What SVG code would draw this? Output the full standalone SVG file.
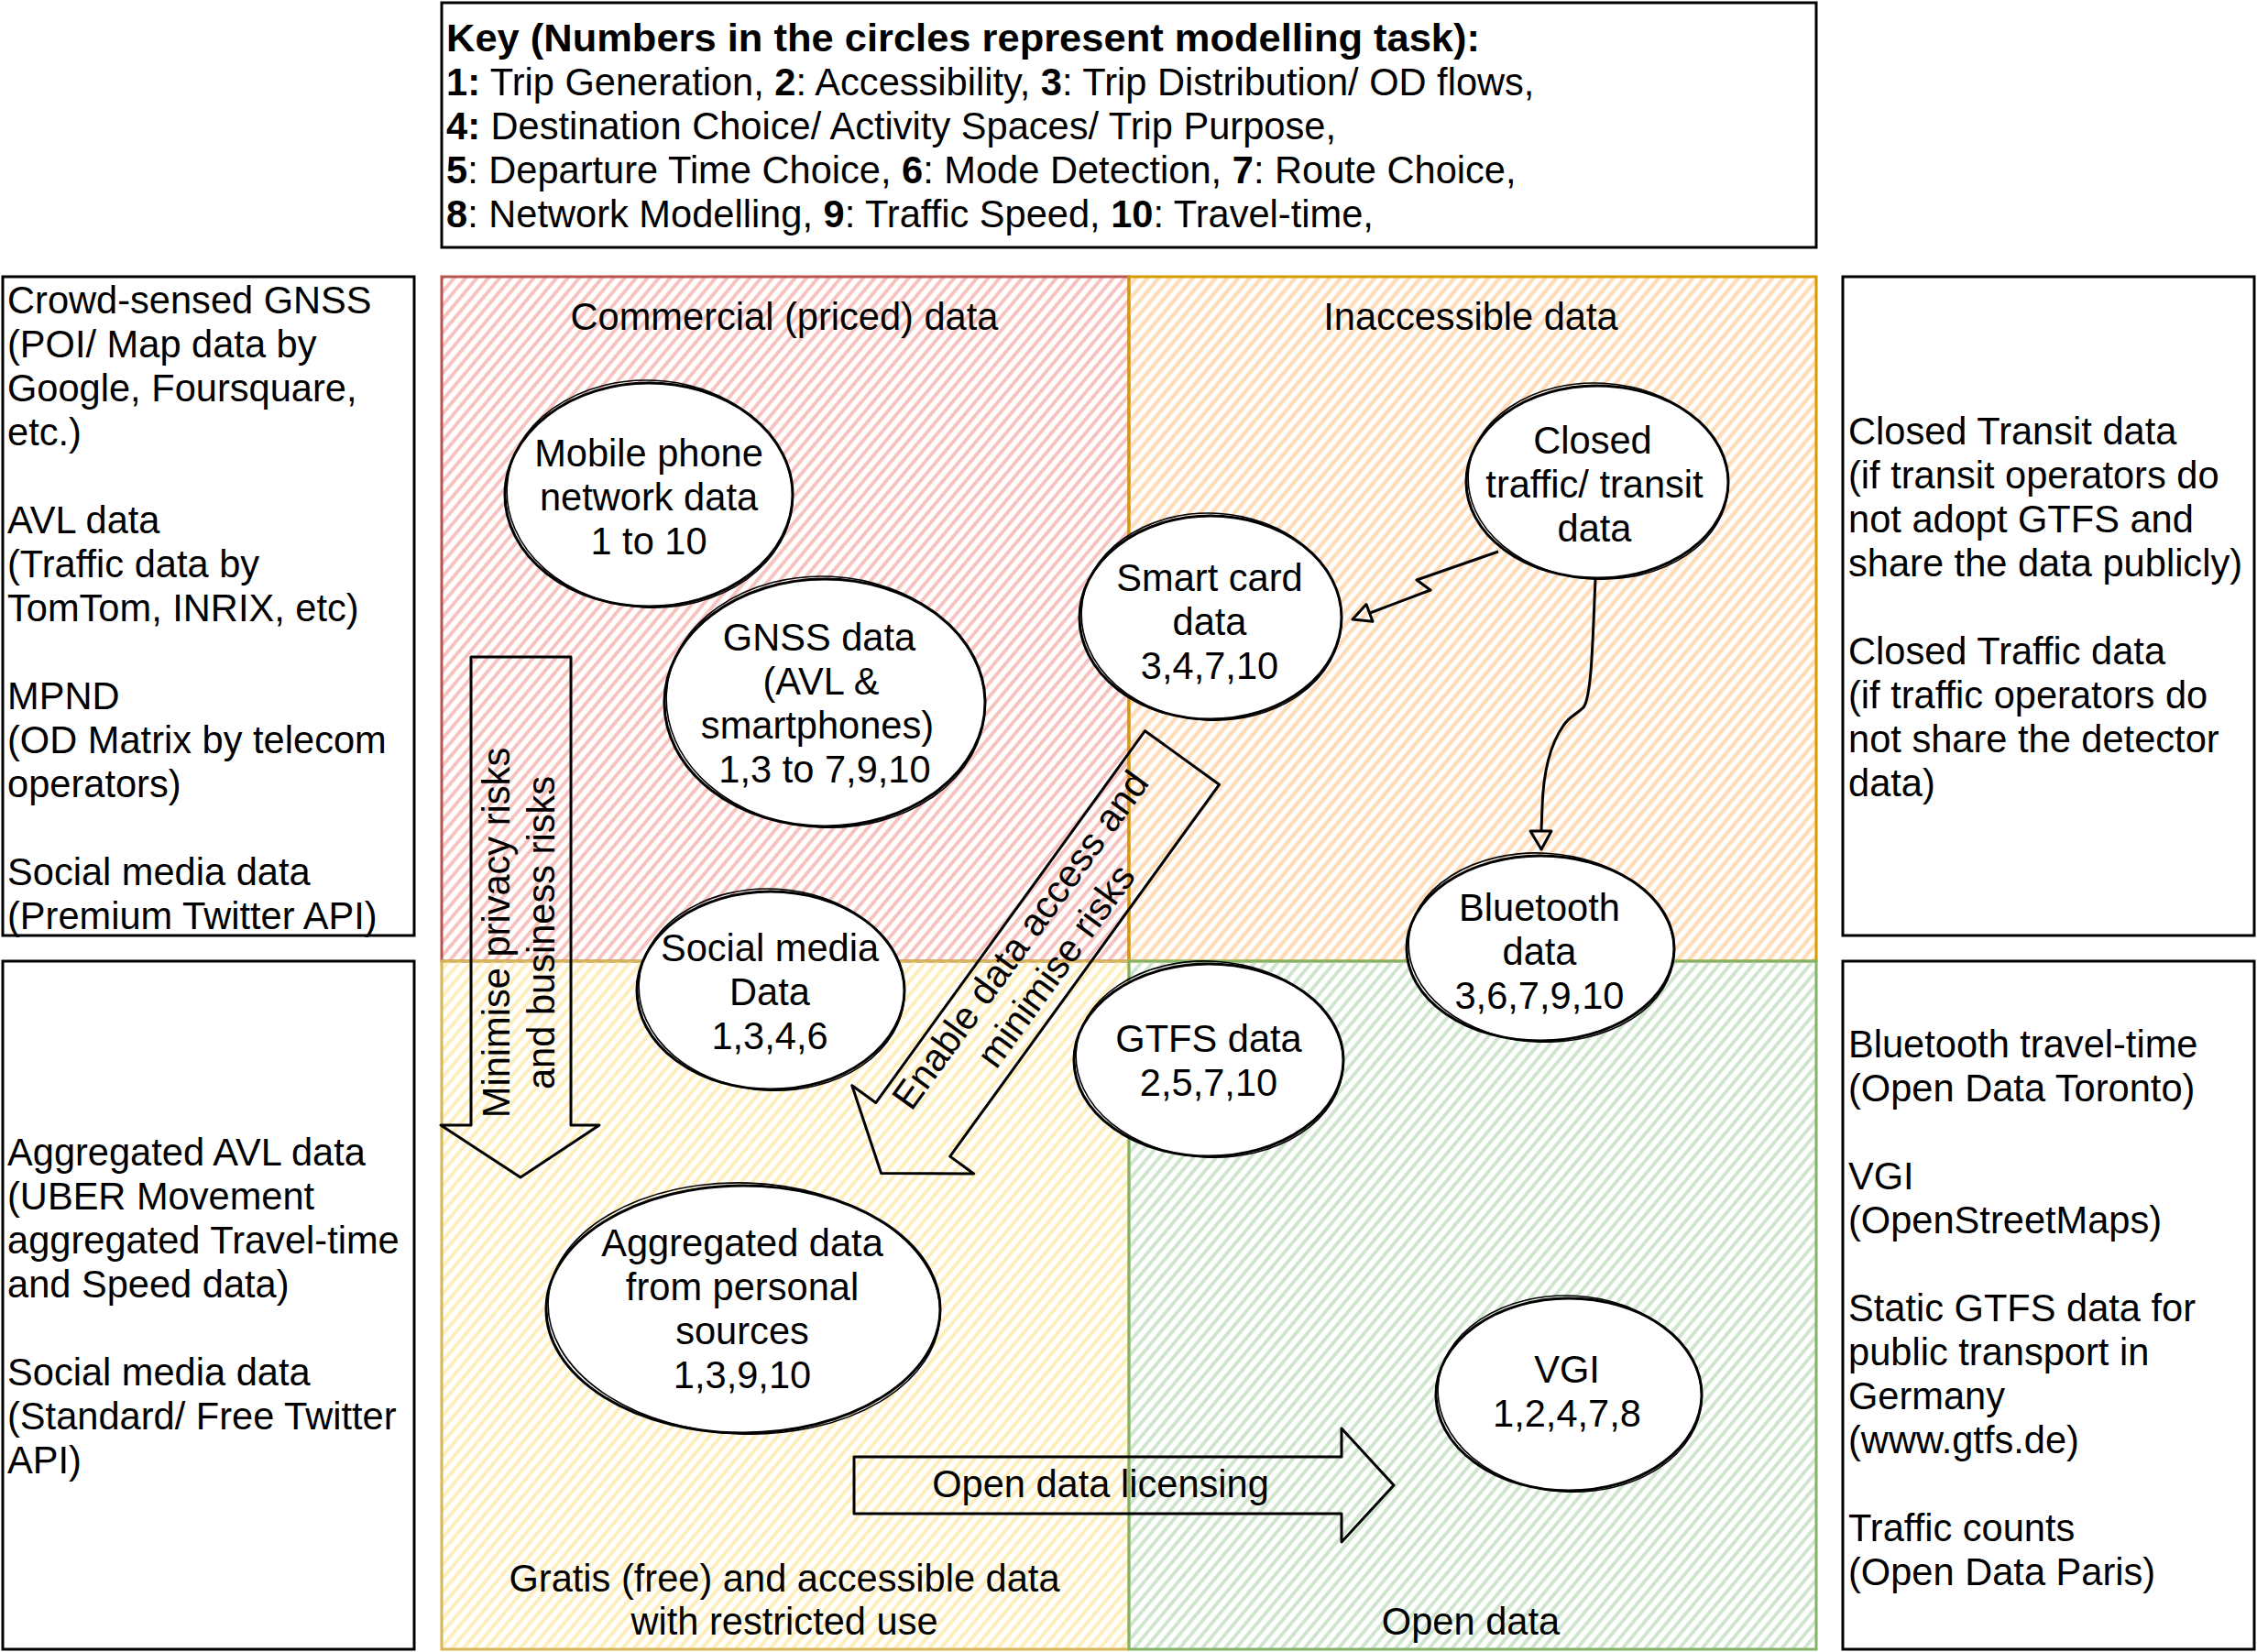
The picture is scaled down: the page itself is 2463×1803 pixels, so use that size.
<svg xmlns="http://www.w3.org/2000/svg" width="2463" height="1803" viewBox="0 0 2463 1803">
<style>
.t{font-family:"Liberation Sans",Arial,Helvetica,sans-serif;font-size:41.6px;fill:#000}
.m{text-anchor:middle}
.b{font-weight:bold}
.node{fill:#fff;stroke:#000;stroke-width:3}
.sk{fill:none;stroke:#000;stroke-width:1.6}
.box{fill:#fff;stroke:#000;stroke-width:3}
.blk{fill:none;stroke:#000;stroke-width:3;stroke-linejoin:round}
.conn{fill:none;stroke:#000;stroke-width:3;stroke-linejoin:round}
.head{fill:none;stroke:#000;stroke-width:3;stroke-linejoin:round}
</style>
<defs>
<pattern id="hr" width="9.5" height="9.5" patternUnits="userSpaceOnUse" patternTransform="rotate(40)"><line x1="4.75" y1="0" x2="4.75" y2="9.5" stroke="#f6c3bf" stroke-width="4"/></pattern>
<pattern id="ho" width="9.5" height="9.5" patternUnits="userSpaceOnUse" patternTransform="rotate(40)"><line x1="4.75" y1="0" x2="4.75" y2="9.5" stroke="#ffdcb8" stroke-width="4.4"/></pattern>
<pattern id="hy" width="9.5" height="9.5" patternUnits="userSpaceOnUse" patternTransform="rotate(40)"><line x1="4.75" y1="0" x2="4.75" y2="9.5" stroke="#ffedbb" stroke-width="4"/></pattern>
<pattern id="hg" width="9.5" height="9.5" patternUnits="userSpaceOnUse" patternTransform="rotate(40)"><line x1="4.75" y1="0" x2="4.75" y2="9.5" stroke="#cfe5cd" stroke-width="4"/></pattern>
</defs>
<rect width="2463" height="1803" fill="#fff"/>

<g id="quadrants">
<g id="q-commercial"><rect x="482" y="302" width="750" height="747" fill="url(#hr)" stroke="#b85450" stroke-width="3"/><text class="t m" x="856" y="360">Commercial (priced) data</text></g>
<g id="q-inaccessible"><rect x="1232" y="302" width="750" height="747" fill="url(#ho)" stroke="#d79b00" stroke-width="3"/><text class="t m" x="1605" y="360">Inaccessible data</text></g>
<g id="q-gratis"><rect x="482" y="1049" width="750" height="751" fill="url(#hy)" stroke="#d6b656" stroke-width="3"/><text class="t m" x="856" y="1737">Gratis (free) and accessible data<tspan x="856" dy="47">with restricted use</tspan></text></g>
<g id="q-open"><rect x="1232" y="1049" width="750" height="751" fill="url(#hg)" stroke="#82b366" stroke-width="3"/><text class="t m" x="1605" y="1784">Open data</text></g>
</g>

<g id="key">
<rect class="box" x="482" y="3" width="1500" height="267"/>
<text class="t" x="487" y="56"><tspan class="b" textLength="1128" lengthAdjust="spacingAndGlyphs">Key (Numbers in the circles represent modelling task):</tspan>
<tspan x="487" dy="48"><tspan class="b">1:</tspan> Trip Generation, <tspan class="b">2</tspan>: Accessibility, <tspan class="b">3</tspan>: Trip Distribution/ OD flows,</tspan>
<tspan x="487" dy="48"><tspan class="b">4:</tspan> Destination Choice/ Activity Spaces/ Trip Purpose,</tspan>
<tspan x="487" dy="48"><tspan class="b">5</tspan>: Departure Time Choice, <tspan class="b">6</tspan>: Mode Detection, <tspan class="b">7</tspan>: Route Choice,</tspan>
<tspan x="487" dy="48"><tspan class="b">8</tspan>: Network Modelling, <tspan class="b">9</tspan>: Traffic Speed, <tspan class="b">10</tspan>: Travel-time,</tspan></text>
</g>

<g id="left-commercial">
<rect class="box" x="3" y="302" width="449" height="719"/>
<text class="t" x="8" y="342">Crowd-sensed GNSS<tspan x="8" dy="48">(POI/ Map data by</tspan><tspan x="8" dy="48">Google, Foursquare,</tspan><tspan x="8" dy="48">etc.)</tspan><tspan x="8" dy="96">AVL data</tspan><tspan x="8" dy="48">(Traffic data by</tspan><tspan x="8" dy="48">TomTom, INRIX, etc)</tspan><tspan x="8" dy="96">MPND</tspan><tspan x="8" dy="48">(OD Matrix by telecom</tspan><tspan x="8" dy="48">operators)</tspan><tspan x="8" dy="96">Social media data</tspan><tspan x="8" dy="48">(Premium Twitter API)</tspan></text>
</g>

<g id="left-gratis">
<rect class="box" x="3" y="1049" width="449" height="751"/>
<text class="t" x="8" y="1272">Aggregated AVL data<tspan x="8" dy="48">(UBER Movement</tspan><tspan x="8" dy="48">aggregated Travel-time</tspan><tspan x="8" dy="48">and Speed data)</tspan><tspan x="8" dy="96">Social media data</tspan><tspan x="8" dy="48">(Standard/ Free Twitter</tspan><tspan x="8" dy="48">API)</tspan></text>
</g>

<g id="right-inaccessible">
<rect class="box" x="2011" y="302" width="449" height="719"/>
<text class="t" x="2017" y="485">Closed Transit data<tspan x="2017" dy="48">(if transit operators do</tspan><tspan x="2017" dy="48">not adopt GTFS and</tspan><tspan x="2017" dy="48">share the data publicly)</tspan><tspan x="2017" dy="96">Closed Traffic data</tspan><tspan x="2017" dy="48">(if traffic operators do</tspan><tspan x="2017" dy="48">not share the detector</tspan><tspan x="2017" dy="48">data)</tspan></text>
</g>

<g id="right-open">
<rect class="box" x="2011" y="1049" width="449" height="751"/>
<text class="t" x="2017" y="1154">Bluetooth travel-time<tspan x="2017" dy="48">(Open Data Toronto)</tspan><tspan x="2017" dy="96">VGI</tspan><tspan x="2017" dy="48">(OpenStreetMaps)</tspan><tspan x="2017" dy="96">Static GTFS data for</tspan><tspan x="2017" dy="48">public transport in</tspan><tspan x="2017" dy="48">Germany</tspan><tspan x="2017" dy="48">(www.gtfs.de)</tspan><tspan x="2017" dy="96">Traffic counts</tspan><tspan x="2017" dy="48">(Open Data Paris)</tspan></text>
</g>

<g id="arrow-minimise">
<polygon class="blk" points="514,717 623,717 623,1228 654,1228 568,1285 481,1228 514,1228"/>
<text class="t m" transform="translate(556,1018) rotate(-90)" x="0" y="0">Minimise privacy risks</text>
<text class="t m" transform="translate(605,1018) rotate(-90)" x="0" y="0">and business risks</text>
</g>

<g id="arrow-enable">
<polygon class="blk" transform="translate(1290,827) rotate(125.9)" points="0,-50 501,-50 501,-82 560,0 501,82 501,50 0,50"/>
<text class="t m" transform="translate(1133,1040) rotate(-54)"><tspan x="0" y="-10">Enable data access and</tspan><tspan x="0" y="38">minimise risks</tspan></text>
</g>

<g id="arrow-open-licensing">
<polygon class="blk" points="932,1590 1464,1590 1464,1559 1521,1621 1464,1683 1464,1652 932,1652"/>
<text class="t m" x="1201" y="1634">Open data licensing</text>
</g>

<g id="connectors">
<path class="conn" d="M1635,602 L1546,633 L1561,644 L1495,669"/>
<polygon class="head" points="1476,676 1491,659.5 1498,678.3"/>
<path class="conn" d="M1741,632 C1738,700 1737,760 1728,772 C1720,780 1712,782 1706,792 C1690,815 1684,850 1683,880 L1682,907"/>
<polygon class="head" points="1670,907 1693,907 1682,927"/>
</g>

<g id="node-mobile"><ellipse class="node" cx="708" cy="540" rx="157" ry="122"/><ellipse class="sk" cx="709" cy="539" rx="156" ry="124" transform="rotate(3 708 540)"/><text class="t m" x="708" y="509">Mobile phone<tspan x="708" dy="48">network data</tspan><tspan x="708" dy="48">1 to 10</tspan></text></g>
<g id="node-gnss"><ellipse class="node" cx="900" cy="767" rx="175" ry="135"/><ellipse class="sk" cx="901" cy="766" rx="174" ry="137" transform="rotate(3 900 767)"/><text class="t m" x="894" y="710">GNSS data<tspan x="896" dy="48">(AVL &amp;</tspan><tspan x="892" dy="48">smartphones)</tspan><tspan x="900" dy="48">1,3 to 7,9,10</tspan></text></g>
<g id="node-social"><ellipse class="node" cx="841" cy="1081" rx="146" ry="108"/><ellipse class="sk" cx="842" cy="1080" rx="145" ry="110" transform="rotate(3 841 1081)"/><text class="t m" x="840" y="1049">Social media<tspan x="840" dy="48">Data</tspan><tspan x="840" dy="48">1,3,4,6</tspan></text></g>
<g id="node-aggregated"><ellipse class="node" cx="811" cy="1429" rx="215" ry="135"/><ellipse class="sk" cx="812" cy="1428" rx="214" ry="137" transform="rotate(2 811 1429)"/><text class="t m" x="810" y="1371">Aggregated data<tspan x="810" dy="48">from personal</tspan><tspan x="810" dy="48">sources</tspan><tspan x="810" dy="48">1,3,9,10</tspan></text></g>
<g id="node-smartcard"><ellipse class="node" cx="1321" cy="674" rx="143" ry="111"/><ellipse class="sk" cx="1322" cy="673" rx="142" ry="113" transform="rotate(3 1321 674)"/><text class="t m" x="1320" y="645">Smart card<tspan x="1320" dy="48">data</tspan><tspan x="1320" dy="48">3,4,7,10</tspan></text></g>
<g id="node-closed"><ellipse class="node" cx="1743" cy="526" rx="143" ry="105"/><ellipse class="sk" cx="1744" cy="525" rx="142" ry="107" transform="rotate(3 1743 526)"/><text class="t m" x="1738" y="495">Closed<tspan x="1740" dy="48">traffic/ transit</tspan><tspan x="1740" dy="48">data</tspan></text></g>
<g id="node-bluetooth"><ellipse class="node" cx="1681" cy="1035" rx="146" ry="101"/><ellipse class="sk" cx="1682" cy="1034" rx="145" ry="103" transform="rotate(3 1681 1035)"/><text class="t m" x="1680" y="1005">Bluetooth<tspan x="1680" dy="48">data</tspan><tspan x="1680" dy="48">3,6,7,9,10</tspan></text></g>
<g id="node-gtfs"><ellipse class="node" cx="1319" cy="1157" rx="147" ry="105"/><ellipse class="sk" cx="1320" cy="1156" rx="146" ry="107" transform="rotate(3 1319 1157)"/><text class="t m" x="1319" y="1148">GTFS data<tspan x="1319" dy="48">2,5,7,10</tspan></text></g>
<g id="node-vgi"><ellipse class="node" cx="1712" cy="1522" rx="145" ry="105"/><ellipse class="sk" cx="1713" cy="1521" rx="144" ry="107" transform="rotate(3 1712 1522)"/><text class="t m" x="1710" y="1509">VGI<tspan x="1710" dy="48">1,2,4,7,8</tspan></text></g>
</svg>
